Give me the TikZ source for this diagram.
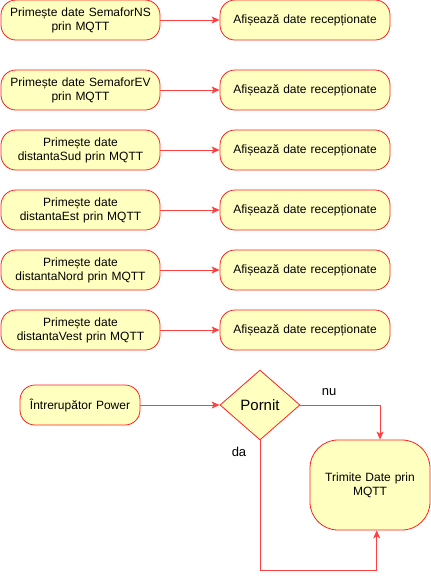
\documentclass[tikz,border=0pt]{standalone}
\usepackage{fontspec}
\setmainfont{Liberation Sans}
\usetikzlibrary{shapes.geometric,arrows.meta}
\definecolor{boxfill}{HTML}{FFFFC0}
\definecolor{boxline}{HTML}{FF2020}
\definecolor{arrline}{HTML}{FF4040}
\begin{document}
\begin{tikzpicture}[x=1pt,y=-1pt,
 box/.style={draw=boxline, fill=boxfill, rounded corners=15pt, line width=0.8pt, align=center, font=\fontsize{12}{14}\selectfont, minimum height=40pt, inner sep=0pt},
 lbox/.style={box, minimum width=159pt, text width=150pt},
 rbox/.style={box, minimum width=170pt, text width=160pt},
 lbl/.style={font=\fontsize{13}{15}\selectfont, inner sep=0pt},
 conn/.style={draw=arrline, line width=0.8pt, -{Stealth[length=8pt,width=7pt,inset=2pt]}}]
\useasboundingbox (0,0) rectangle (431,579);
\node[lbox] (l1) at (80.5,20) {Primește date SemaforNS\\prin MQTT};
\node[lbox] (l2) at (80.5,90) {Primește date SemaforEV\\prin MQTT};
\node[lbox] (l3) at (80.5,150) {Primește date\\distantaSud prin MQTT};
\node[lbox] (l4) at (80.5,210) {Primește date\\distantaEst prin MQTT};
\node[lbox] (l5) at (80.5,270) {Primește date\\distantaNord prin MQTT};
\node[lbox] (l6) at (80.5,330) {Primește date\\distantaVest prin MQTT};
\foreach \i/\y in {1/20,2/90,3/150,4/210,5/270,6/330}{
  \node[rbox] (r\i) at (305,\y) {Afișează date recepționate};
  \draw[conn] (l\i) -- (r\i);
}
\node[box, minimum width=120pt, text width=110pt] (pw) at (80,405) {Întrerupător Power};
\node[draw=boxline, fill=boxfill, diamond, minimum width=80pt, minimum height=70pt, inner sep=0pt, line width=0.8pt, font=\fontsize{15}{17}\selectfont] (d) at (260,405) {Pornit};
\node[box, rounded corners=28pt, minimum width=120pt, minimum height=90pt, text width=110pt] (t) at (370,485) {Trimite Date prin\\MQTT};
\draw[conn] (pw) -- (d);
\draw[conn] (d.east) -| ([xshift=10pt]t.north);
\draw[conn] (d.south) -- ++(0,130) -| ([xshift=6.7pt]t.south);
\node[lbl] (nu) at (329,392) {nu};
\node[lbl] (da) at (239,452) {da};
\end{tikzpicture}
\end{document}
